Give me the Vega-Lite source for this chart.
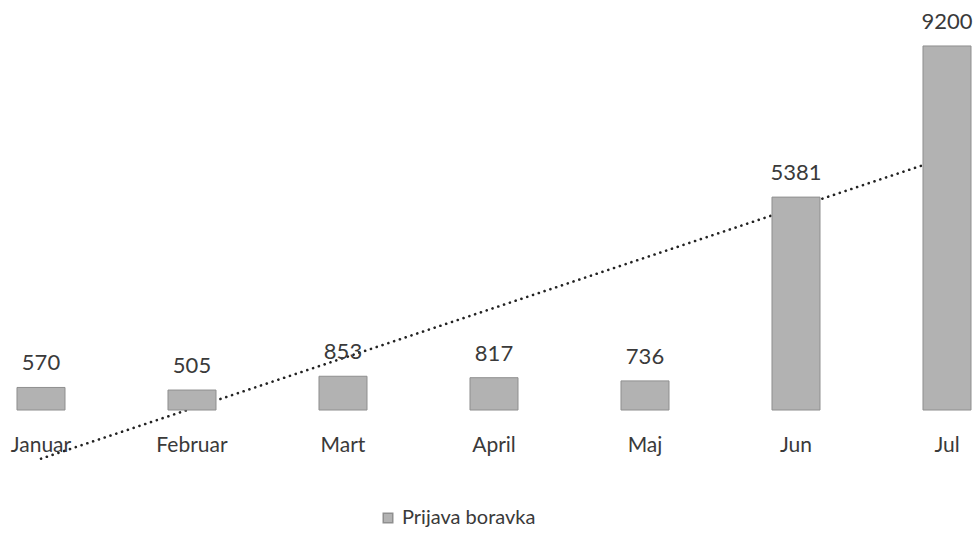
{
  "$schema": "https://vega.github.io/schema/vega-lite/v6.json",
  "width": 988,
  "height": 555,
  "autosize": {"type": "none"},
  "padding": 0,
  "background": "white",
  "config": {"view": {"stroke": null}, "font": "Lato"},
  "data": {
    "values": [
      {"mjesec": "Januar", "vrijednost": 570, "trend": -1230, "serija": "Prijava boravka"},
      {"mjesec": "Februar", "vrijednost": 505, "trend": 40, "serija": "Prijava boravka"},
      {"mjesec": "Mart", "vrijednost": 853, "trend": 1310, "serija": "Prijava boravka"},
      {"mjesec": "April", "vrijednost": 817, "trend": 2580, "serija": "Prijava boravka"},
      {"mjesec": "Maj", "vrijednost": 736, "trend": 3850, "serija": "Prijava boravka"},
      {"mjesec": "Jun", "vrijednost": 5381, "trend": 5120, "serija": "Prijava boravka"},
      {"mjesec": "Jul", "vrijednost": 9200, "trend": 6390, "serija": "Prijava boravka"}
    ]
  },
  "encoding": {
    "x": {
      "field": "mjesec",
      "type": "nominal",
      "sort": null,
      "scale": {"paddingInner": 0.682, "paddingOuter": 0.1125},
      "axis": {
        "title": null,
        "domain": false,
        "ticks": false,
        "labelAngle": 0,
        "labelFont": "Lato",
        "labelFontSize": 21,
        "labelColor": "#3a3a3a",
        "labelPadding": 0,
        "offset": -121
      }
    }
  },
  "layer": [
    {
      "mark": {"type": "line", "color": "#222222", "strokeWidth": 2.6, "strokeDash": [0.1, 6], "strokeCap": "round"},
      "encoding": {
        "y": {"field": "trend", "type": "quantitative", "scale": {"domain": [-3664, 10362], "nice": false, "zero": false}, "axis": null}
      }
    },
    {
      "mark": {"type": "bar", "stroke": "#8f8f8f", "strokeWidth": 1},
      "encoding": {
        "y": {"field": "vrijednost", "type": "quantitative", "scale": {"domain": [-3664, 10362], "nice": false, "zero": false}, "axis": null},
        "color": {
          "field": "serija",
          "type": "nominal",
          "scale": {"range": ["#b2b2b2"]},
          "legend": {
            "title": null,
            "orient": "none",
            "legendX": 378,
            "legendY": 508,
            "symbolType": "square",
            "symbolSize": 90,
            "symbolStrokeColor": "#8f8f8f",
            "labelFont": "Lato",
            "labelFontSize": 20,
            "labelColor": "#3a3a3a",
            "labelOffset": 4
          }
        }
      }
    },
    {
      "mark": {"type": "text", "baseline": "alphabetic", "dy": -17, "font": "Lato", "fontSize": 22, "color": "#3a3a3a"},
      "encoding": {
        "y": {"field": "vrijednost", "type": "quantitative", "scale": {"domain": [-3664, 10362], "nice": false, "zero": false}, "axis": null},
        "text": {"field": "vrijednost", "type": "quantitative", "format": "d"}
      }
    }
  ]
}
